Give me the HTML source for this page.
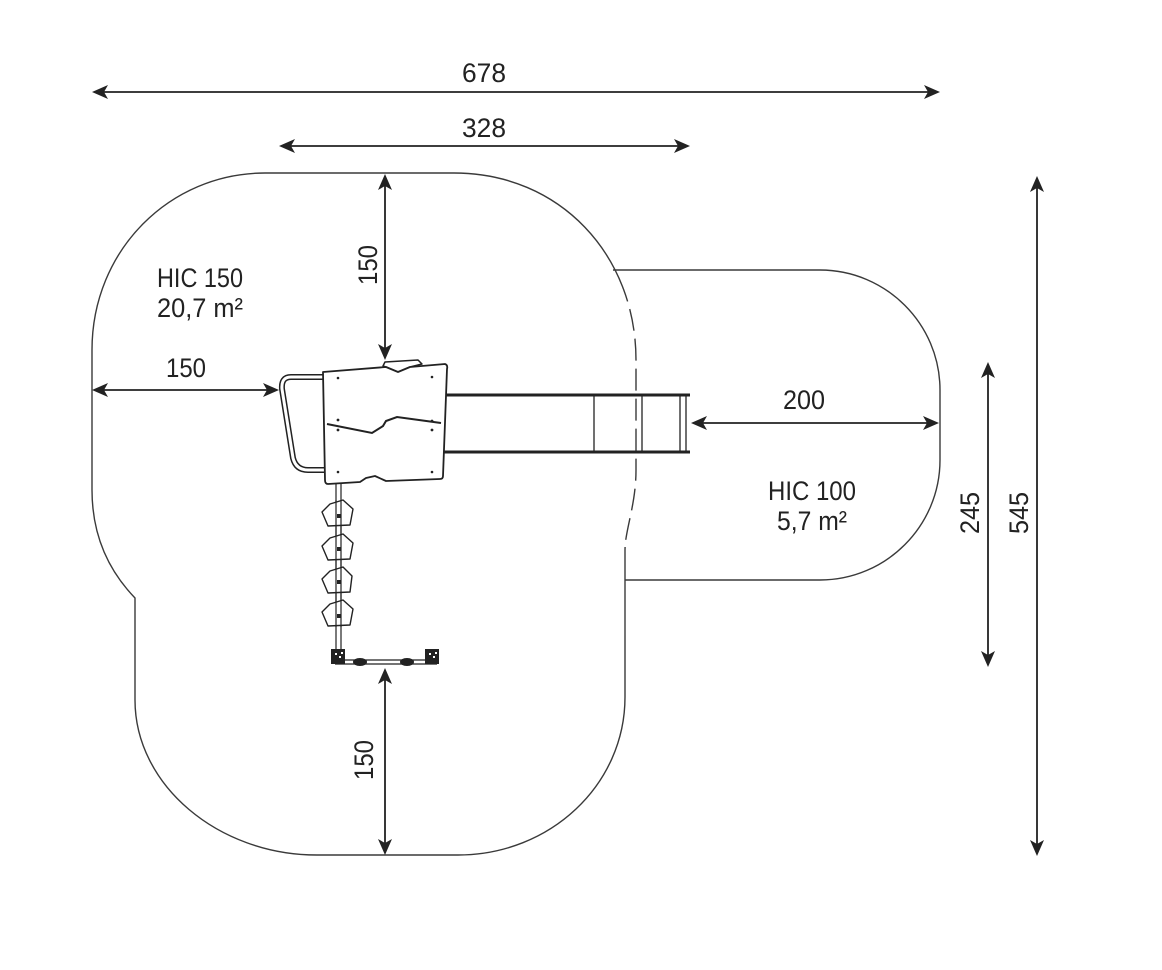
<!DOCTYPE html>
<html>
<head>
<meta charset="utf-8">
<style>
html,body{margin:0;padding:0;background:#fff;}
svg{display:block;}
text{font-family:"Liberation Sans",sans-serif;fill:#222;}
</style>
</head>
<body>
<svg width="1162" height="970" viewBox="0 0 1162 970" xmlns="http://www.w3.org/2000/svg">
<defs>
  <clipPath id="solidclip">
    <path clip-rule="evenodd" d="M0,0H1162V970H0Z M600,289V547H660V289Z"/>
  </clipPath>
  <clipPath id="dashclip">
    <rect x="600" y="289" width="60" height="258"/>
  </clipPath>
</defs>

<!-- big safety area outline -->
<g fill="none" stroke="#3a3a3a" stroke-width="1.4">
  <path clip-path="url(#solidclip)" d="M265,173 L454,173 C560,173 636,255 636,360 L636,470 C636,505 625,530 625,550 L625,697 C625,785 550,855 458,855 L317,855 C218,855 135,785 135,700 L135,598 C108,570 92,535 92,490 L92,350 C92,250 170,173 265,173 Z"/>
  <path clip-path="url(#dashclip)" stroke-dasharray="22 8" d="M454,173 C560,173 636,255 636,360 L636,470 C636,505 625,530 625,550 L625,697"/>
  <!-- small area -->
  <path d="M613,270 L820,270 C886,270 940,324 940,390 L940,460 C940,526 886,580 820,580 L625,580"/>
</g>

<!-- slide -->
<g stroke="#222" fill="none">
  <line x1="443" y1="395" x2="690" y2="395" stroke-width="3"/>
  <line x1="443" y1="452" x2="690" y2="452" stroke-width="3"/>
  <line x1="594" y1="395" x2="594" y2="452" stroke-width="1.3"/>
  <line x1="642" y1="395" x2="642" y2="452" stroke-width="1.3"/>
  <line x1="680" y1="395" x2="680" y2="452" stroke-width="1.3"/>
  <line x1="686" y1="395" x2="686" y2="452" stroke-width="1.3"/>
</g>

<!-- handrail -->
<path d="M324,377 L291,377 Q281,377 282,389 L293,458 Q296,470 308,470 L324,470" fill="none" stroke="#222" stroke-width="6"/>
<path d="M324,377 L291,377 Q281,377 282,389 L293,458 Q296,470 308,470 L324,470" fill="none" stroke="#fff" stroke-width="3"/>

<!-- pole -->
<g stroke="#222" stroke-width="1.2" fill="none">
  <line x1="336" y1="482" x2="336" y2="651"/>
  <line x1="341" y1="482" x2="341" y2="651"/>
</g>

<!-- platform panel -->
<path d="M383,366 L385,362 L418,360 L422,364 L410,367 L398,372 L386,367 Z" fill="#fff" stroke="#222" stroke-width="1.5" stroke-linejoin="round"/>
<path d="M323,372 L386,367 L398,372 L410,367 L445,364 Q448,365 447,369 L443,476 Q443,479 440,479 L386,481 L375,476 L366,478 L360,482 L328,484 Q325,484 325,480 Z" fill="#fff" stroke="#222" stroke-width="1.8" stroke-linejoin="round"/>
<polyline points="327,424 372,433 383,426 386,421 397,417 441,423" fill="none" stroke="#222" stroke-width="2"/>
<g fill="#222">
  <circle cx="338" cy="378" r="1.3"/><circle cx="432" cy="377" r="1.3"/>
  <circle cx="338" cy="420" r="1.4"/><circle cx="338" cy="430" r="1.4"/>
  <circle cx="432" cy="421" r="1.4"/><circle cx="432" cy="430" r="1.4"/>
  <circle cx="338" cy="472" r="1.3"/><circle cx="432" cy="472" r="1.3"/>
</g>

<!-- climbing steps -->
<g fill="#fff" stroke="#222" stroke-width="1.4" stroke-linejoin="round">
  <polygon points="330,504 343,500 353,509 350,525 328,526 322,512"/>
  <polygon points="330,538 343,534 353,543 350,559 328,560 322,546"/>
  <polygon points="330,571 343,567 352,576 350,592 328,593 322,579"/>
  <polygon points="330,604 343,600 353,609 350,625 328,626 322,612"/>
</g>
<g stroke="#222" stroke-width="1.2">
  <line x1="336" y1="500" x2="336" y2="627"/>
  <line x1="341" y1="500" x2="341" y2="627"/>
</g>
<g fill="#222">
  <rect x="337" y="514" width="4" height="4"/>
  <rect x="337" y="547" width="4" height="4"/>
  <rect x="337" y="580" width="4" height="4"/>
  <rect x="337" y="614" width="4" height="4"/>
</g>

<!-- bottom bar -->
<g stroke="#222" stroke-width="1.2" fill="none">
  <line x1="335" y1="660" x2="437" y2="660"/>
  <line x1="335" y1="664" x2="437" y2="664"/>
</g>
<rect x="331" y="649" width="14" height="15" fill="#222"/>
<rect x="425" y="649" width="14" height="15" fill="#222"/>
<g fill="#fff">
  <rect x="335" y="653" width="2" height="2"/><rect x="339" y="656" width="2" height="2"/><rect x="341" y="652" width="2" height="2"/>
  <rect x="429" y="653" width="2" height="2"/><rect x="433" y="656" width="2" height="2"/><rect x="435" y="652" width="2" height="2"/>
</g>
<ellipse cx="360" cy="662" rx="7" ry="4" fill="#222"/>
<ellipse cx="407" cy="662" rx="7" ry="4" fill="#222"/>

<!-- dimension lines -->
<g stroke="#222" stroke-width="1.8">
  <line x1="100" y1="92" x2="932" y2="92"/>
  <line x1="287" y1="146" x2="682" y2="146"/>
  <line x1="1037" y1="184" x2="1037" y2="848"/>
  <line x1="988" y1="370" x2="988" y2="659"/>
  <line x1="385" y1="182" x2="385" y2="352"/>
  <line x1="100" y1="390" x2="271" y2="390"/>
  <line x1="699" y1="423" x2="931" y2="423"/>
  <line x1="385" y1="676" x2="385" y2="847"/>
</g>
<g fill="#222">
  <polygon points="92,92 108,85 104,92 108,99"/>
  <polygon points="940,92 924,85 928,92 924,99"/>
  <polygon points="279,146 295,139 291,146 295,153"/>
  <polygon points="690,146 674,139 678,146 674,153"/>
  <polygon points="1037,176 1030,192 1037,188 1044,192"/>
  <polygon points="1037,856 1030,840 1037,844 1044,840"/>
  <polygon points="988,362 981,378 988,374 995,378"/>
  <polygon points="988,667 981,651 988,655 995,651"/>
  <polygon points="385,174 378,190 385,186 392,190"/>
  <polygon points="385,360 378,344 385,348 392,344"/>
  <polygon points="92,390 108,383 104,390 108,397"/>
  <polygon points="279,390 263,383 267,390 263,397"/>
  <polygon points="691,423 707,416 703,423 707,430"/>
  <polygon points="939,423 923,416 927,423 923,430"/>
  <polygon points="385,668 378,684 385,680 392,684"/>
  <polygon points="385,855 378,839 385,843 392,839"/>
</g>

<!-- labels -->
<g font-size="27">
  <text x="462" y="82" textLength="44" lengthAdjust="spacingAndGlyphs">678</text>
  <text x="462" y="137" textLength="44" lengthAdjust="spacingAndGlyphs">328</text>
  <text x="166" y="377" textLength="40" lengthAdjust="spacingAndGlyphs">150</text>
  <text x="783" y="409" textLength="42" lengthAdjust="spacingAndGlyphs">200</text>
  <text x="157" y="287" textLength="86" lengthAdjust="spacingAndGlyphs">HIC 150</text>
  <text x="157" y="317" textLength="86" lengthAdjust="spacingAndGlyphs">20,7 m²</text>
  <text x="768" y="500" textLength="88" lengthAdjust="spacingAndGlyphs">HIC 100</text>
  <text x="777" y="530" textLength="70" lengthAdjust="spacingAndGlyphs">5,7 m²</text>
  <text transform="translate(377,265) rotate(-90)" x="-20" y="0" textLength="40" lengthAdjust="spacingAndGlyphs">150</text>
  <text transform="translate(373,760) rotate(-90)" x="-20" y="0" textLength="40" lengthAdjust="spacingAndGlyphs">150</text>
  <text transform="translate(979,513) rotate(-90)" x="-21" y="0" textLength="42" lengthAdjust="spacingAndGlyphs">245</text>
  <text transform="translate(1028,513) rotate(-90)" x="-21" y="0" textLength="42" lengthAdjust="spacingAndGlyphs">545</text>
</g>
</svg>
</body>
</html>
